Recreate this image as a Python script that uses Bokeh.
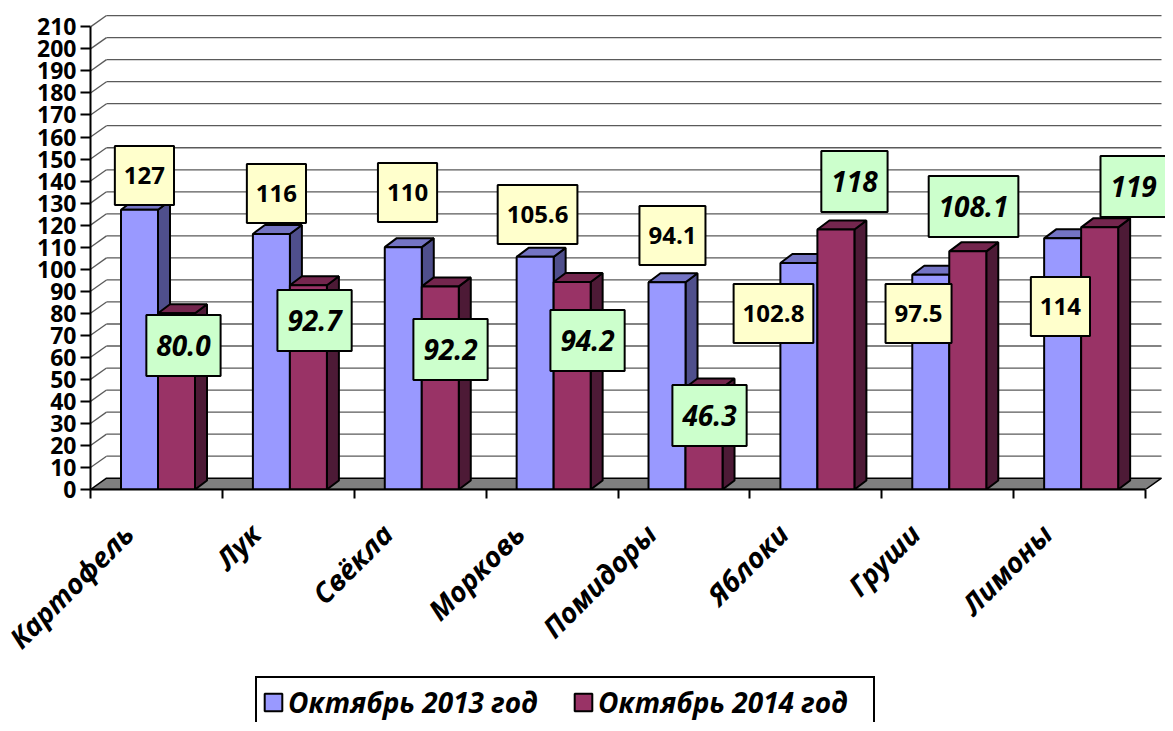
import math
from bokeh.plotting import figure
from bokeh.layouts import column
from bokeh.models import Range1d, FixedTicker, Legend, LegendItem, ColumnDataSource
from bokeh.core.properties import value
from bokeh.embed import file_html
from bokeh.resources import INLINE

# ---------------- data ----------------
categories = ["Картофель", "Лук", "Свёкла", "Морковь", "Помидоры", "Яблоки", "Груши", "Лимоны"]
v2013 = [127, 116, 110, 105.6, 94.1, 102.8, 97.5, 114]
v2014 = [80.0, 92.7, 92.2, 94.2, 46.3, 118, 108.1, 119]
labels2013 = ["127", "116", "110", "105.6", "94.1", "102.8", "97.5", "114"]
labels2014 = ["80.0", "92.7", "92.2", "94.2", "46.3", "118", "108.1", "119"]
series_names = ["Октябрь 2013 год", "Октябрь 2014 год"]
y_ticks = list(range(0, 211, 10))

# ---------------- layout / style ----------------
PX_X = 131.875          # px per category
PX_Y = 2.203            # px per value unit
WALL_DX, WALL_DY = 16 / PX_X, 11.3 / PX_Y
BAR_DX, BAR_DY = 12 / PX_X, 9 / PX_Y
BAR_W = 37 / PX_X
PAIR_C = 0.512
Y_MAX = 210

# label placement: x offset inside category, y offset relative to bar value
lbl13_x = [0.409, 0.410, 0.404, 0.390, 0.413, 0.179, 0.279, 0.355]
lbl13_dy = [15.5, 18.4, 24.8, 19.2, 21.2, -22.9, -17.6, -30.9]
lbl14_x = [0.705, 0.699, 0.730, 0.769, 0.694, 0.793, 0.696, 0.91]
lbl14_dy = [-14.6, -16.0, -28.7, -26.6, -12.7, 21.8, 20.4, 18.5]

FONT = "Open Sans"
n = len(categories)
colors = {
    0: dict(front="#9999FF", side="#4F4F8C", top="#7474C4"),
    1: dict(front="#993366", side="#4D1A36", top="#74264E"),
}

W = 1165
LEFT = 90
FRAME_W, FRAME_H = W - LEFT, 489
H_LEG = 50

p = figure(frame_width=FRAME_W, frame_height=FRAME_H, output_backend="svg", toolbar_location=None,
           x_range=Range1d(0, FRAME_W / PX_X), y_range=Range1d(0, FRAME_H / PX_Y),
           min_border_left=LEFT, min_border_right=0, min_border_top=0,
           min_border_bottom=0, outline_line_color=None,
           background_fill_color="white", border_fill_color="white")
p.xgrid.visible = False
p.ygrid.visible = False

# floor
p.patch([0, n, n + WALL_DX, WALL_DX], [0, 0, WALL_DY, WALL_DY],
        fill_color="#808080", line_color="black", line_width=1.5)

# back-wall gridlines and side diagonals
gx0, gy0, gx1, gy1 = [], [], [], []
for t in y_ticks[1:]:
    gx0 += [0, WALL_DX]
    gy0 += [t, t + WALL_DY]
    gx1 += [WALL_DX, n + WALL_DX]
    gy1 += [t + WALL_DY, t + WALL_DY]
p.segment(gx0, gy0, gx1, gy1, line_color="#5a5a5a", line_width=1.3)


def bar_faces(x0, v):
    x1 = x0 + BAR_W
    side = ([x1, x1 + BAR_DX, x1 + BAR_DX, x1], [0, BAR_DY, v + BAR_DY, v])
    top = ([x0, x1, x1 + BAR_DX, x0 + BAR_DX], [v, v, v + BAR_DY, v + BAR_DY])
    return side, top


for i in range(n):
    for s, vals in enumerate([v2013, v2014]):
        x0 = i + PAIR_C - BAR_W if s == 0 else i + PAIR_C
        side, top = bar_faces(x0, vals[i])
        p.patch(side[0], side[1], fill_color=colors[s]["side"], line_color="black", line_width=2)
        p.patch(top[0], top[1], fill_color=colors[s]["top"], line_color="black", line_width=2)
        p.quad(left=[x0], right=[x0 + BAR_W], bottom=[0], top=[vals[i]],
               fill_color=colors[s]["front"], line_color="black", line_width=2)

# value labels
src13 = ColumnDataSource(dict(x=[i + lbl13_x[i] for i in range(n)],
                              y=[v2013[i] + lbl13_dy[i] for i in range(n)],
                              t=labels2013))
src14 = ColumnDataSource(dict(x=[i + lbl14_x[i] for i in range(n)],
                              y=[v2014[i] + lbl14_dy[i] for i in range(n)],
                              t=labels2014))
p.text(x="x", y="y", text="t", source=src13, text_font=value(FONT), text_font_size="24px",
       text_font_style="bold", text_align="center", text_baseline="middle", text_color="black",
       background_fill_color="#FFFFCC", border_line_color="black", border_line_width=2,
       padding=dict(left=9, right=9, top=21, bottom=21))
p.text(x="x", y="y", text="t", source=src14, text_font=value(FONT), text_font_size="28px",
       text_font_style="bold italic", text_align="center", text_baseline="middle", text_color="black",
       background_fill_color="#CCFFCC", border_line_color="black", border_line_width=2,
       padding=dict(left=10, right=10, top=20, bottom=20))

# y axis
ya = p.yaxis[0]
ya.ticker = FixedTicker(ticks=y_ticks)
ya.bounds = (0, Y_MAX)
ya.axis_line_color = "black"
ya.axis_line_width = 2
ya.major_tick_out = 10
ya.major_tick_in = 0
ya.major_tick_line_width = 2
ya.minor_tick_line_color = None
ya.major_label_standoff = 4
ya.major_label_text_font = FONT
ya.major_label_text_font_size = "23px"
ya.major_label_text_font_style = "bold"
ya.major_label_text_color = "black"

# x axis
xa = p.xaxis[0]
centers = [i + 0.25 for i in range(n)]
xa.ticker = FixedTicker(ticks=centers, minor_ticks=list(range(n + 1)))
xa.major_label_overrides = {c: categories[i] for i, c in enumerate(centers)}
xa.bounds = (0, n)
xa.axis_line_color = "black"
xa.axis_line_width = 2
xa.major_tick_line_color = None
xa.minor_tick_out = 9
xa.minor_tick_in = 0
xa.minor_tick_line_width = 2
xa.minor_tick_line_color = "black"
xa.major_label_orientation = math.pi / 4
xa.major_label_standoff = 30
xa.major_label_text_font = FONT
xa.major_label_text_font_size = "28px"
xa.major_label_text_font_style = "bold italic"
xa.major_label_text_color = "black"

# legend figure
pl = figure(width=W, height=H_LEG, output_backend="svg", toolbar_location=None,
            x_range=Range1d(0, 1), y_range=Range1d(0, 1),
            x_axis_location=None, y_axis_location=None,
            min_border=0, outline_line_color=None,
            background_fill_color="white", border_fill_color="white")
pl.grid.visible = False
r0 = pl.quad(left=[5], right=[6], top=[5], bottom=[4], fill_color=colors[0]["front"],
             line_color="black", line_width=2)
r1 = pl.quad(left=[5], right=[6], top=[5], bottom=[4], fill_color=colors[1]["front"],
             line_color="black", line_width=2)
legend = Legend(items=[LegendItem(label=series_names[0], renderers=[r0]),
                       LegendItem(label=series_names[1], renderers=[r1])],
                location=(165, -6), orientation="horizontal",
                label_text_font=FONT, label_text_font_size="28px",
                label_text_font_style="bold italic", label_text_color="black",
                glyph_width=22, glyph_height=22, label_standoff=4, spacing=14,
                label_width=270,
                padding=5, margin=0, border_line_color="black", border_line_width=2,
                border_line_alpha=1,
                background_fill_color="white", background_fill_alpha=1)
pl.add_layout(legend)

layout = column(p, pl, spacing=0)
open("out.html", "w").write(file_html(layout, INLINE))
